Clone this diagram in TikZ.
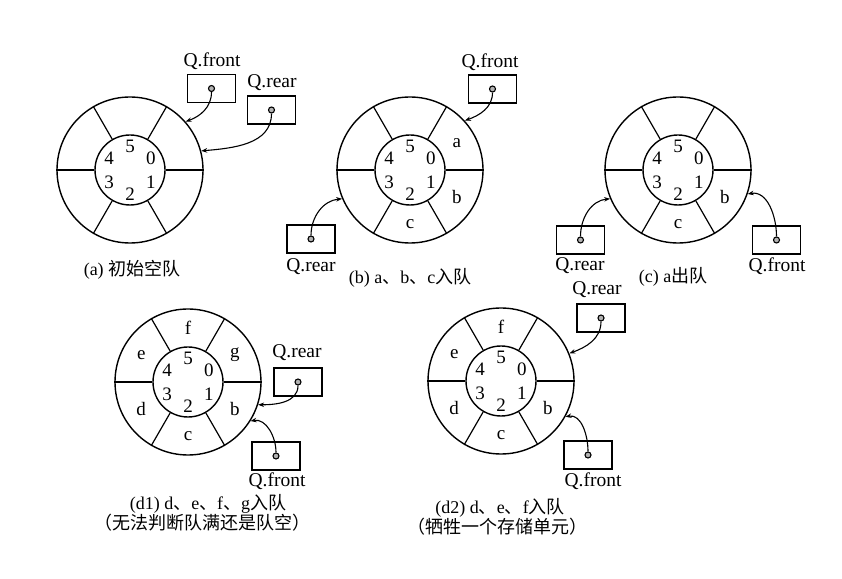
\documentclass[tikz,border=0pt]{standalone}
\usepackage{fontspec}
\setmainfont{Liberation Serif}
\newfontfamily\cjk{Noto Sans CJK SC}
\usetikzlibrary{arrows.meta,calc}
\tikzset{
  ring/.style={circle,draw,line width=1.4pt,minimum size=146pt,inner sep=0pt},
  hub/.style={circle,draw,line width=1.4pt,minimum size=70pt,inner sep=0pt},
  spoke/.style={line width=1.2pt},
  num/.style={inner sep=0pt,font=\fontsize{19}{21}\selectfont},
  qbox/.style={draw,line width=1.2pt,minimum width=48pt,minimum height=28pt,inner sep=0pt},
  qdot/.style={circle,draw,line width=1.1pt,fill=gray!60,minimum size=6pt,inner sep=0pt},
  qlab/.style={inner sep=0pt,font=\fontsize{19.5}{21}\selectfont},
  captxt/.style={inner sep=0pt,font=\fontsize{18}{21}\selectfont},
  ptr/.style={line width=1.1pt,-{Stealth[length=6pt,width=4.5pt]}}
}
\newcommand\qring[2]{%
  \node[ring] (#1) at (#2) {};
  \node[hub] (#1i) at (#2) {};
  \foreach \ang in {0,60,...,300} \draw[spoke] (#1i.\ang) -- (#1.\ang);
  \foreach \n/\ang in {0/30,1/-30,2/-90,3/-150,4/150,5/90}
    \node[num] (#1n\n) at ($(#2)+(\ang:24)$) {\n};
}
\newcommand\qdata[4]{% ring name, angle, text, node name
  \node[num] (#4) at ($(#1)+(#2:54)$) {#3};
}
\begin{document}
\begin{tikzpicture}[x=1pt,y=1pt]
\useasboundingbox (0,0) rectangle (842,578);
% ---------- (a) ----------
\qring{ra}{130,408}
\node[qbox] (afb) at (211.5,489.5) {};
\node[qdot] (afd) at (afb.center) {};
\node[qlab] (afl) at (212,517) {Q.front};
\node[qbox] (arb) at (271.5,468) {};
\node[qdot] (ard) at (arb.center) {};
\node[qlab] (arl) at (272,495) {Q.rear};
\draw[ptr] (afd) to[out=-90,in=20] (ra.41);
\draw[ptr] (ard) to[out=-90,in=5] (ra.15);
\node[captxt] (capa) at (132,308) {(a) {\cjk 初始空队}};
% ---------- (b) ----------
\qring{rb}{410,408}
\qdata{rb}{30}{a}{ba}
\qdata{rb}{-30}{b}{bb}
\qdata{rb}{-90}{c}{bc}
\node[qbox] (bfb) at (492.5,489) {};
\node[qdot] (bfd) at (bfb.center) {};
\node[qlab] (bfl) at (490,516) {Q.front};
\node[qbox] (brb) at (311,339) {};
\node[qdot] (brd) at (brb.center) {};
\node[qlab] (brl) at (311,311) {Q.rear};
\draw[ptr] (bfd) to[out=-90,in=20] (rb.42);
\draw[ptr] (brd) to[out=90,in=185] (rb.203);
\node[captxt] (capb) at (410,300) {(b) a{\cjk 、}b{\cjk 、}c{\cjk 入队}};
% ---------- (c) ----------
\qring{rc}{678,408}
\qdata{rc}{-30}{b}{cb}
\qdata{rc}{-90}{c}{cc}
\node[qbox] (crb) at (580.5,338) {};
\node[qdot] (crd) at (crb.center) {};
\node[qlab] (crl) at (580,312) {Q.rear};
\node[qbox] (cfb) at (776.5,338) {};
\node[qdot] (cfd) at (cfb.center) {};
\node[qlab] (cfl) at (777,312) {Q.front};
\draw[ptr] (crd) to[out=90,in=185] (rc.203);
\draw[ptr] (cfd) to[out=90,in=10] (rc.-19);
\node[captxt] (capc) at (673,301) {(c) a{\cjk 出队}};
% ---------- (d1) ----------
\qring{rd}{188,196}
\qdata{rd}{30}{g}{dg}
\qdata{rd}{90}{f}{df}
\qdata{rd}{150}{e}{de}
\qdata{rd}{210}{d}{dd}
\qdata{rd}{-30}{b}{db}
\qdata{rd}{-90}{c}{dc}
\node[qbox] (drb) at (298,196) {};
\node[qdot] (drd) at (drb.center) {};
\node[qlab] (drl) at (297,225) {Q.rear};
\node[qbox] (dfb) at (276,122) {};
\node[qdot] (dfd) at (dfb.center) {};
\node[qlab] (dfl) at (277,97) {Q.front};
\draw[ptr] (drd) to[out=-90,in=0] (rd.-18);
\draw[ptr] (dfd) to[out=90,in=10] (rd.-32);
\node[captxt] (capd1) at (208,74) {(d1) d{\cjk 、}e{\cjk 、}f{\cjk 、}g{\cjk 入队}};
\node[captxt] (capd1b) at (202,55) {\cjk （无法判断队满还是队空）};
% ---------- (d2) ----------
\qring{re}{501,197}
\qdata{re}{90}{f}{ef}
\qdata{re}{150}{e}{ee}
\qdata{re}{210}{d}{ed}
\qdata{re}{-30}{b}{eb}
\qdata{re}{-90}{c}{ec}
\node[qbox] (erb) at (601,260) {};
\node[qdot] (erd) at (erb.center) {};
\node[qlab] (erl) at (597,288) {Q.rear};
\node[qbox] (efb) at (588,123) {};
\node[qdot] (efd) at (efb.center) {};
\node[qlab] (efl) at (593,97) {Q.front};
\draw[ptr] (erd) to[out=-90,in=20] (re.22);
\draw[ptr] (efd) to[out=90,in=10] (re.-29);
\node[captxt] (capd2) at (500,70) {(d2) d{\cjk 、}e{\cjk 、}f{\cjk 入队}};
\node[captxt] (capd2b) at (497,51) {\cjk （牺牲一个存储单元）};
\end{tikzpicture}
\end{document}
